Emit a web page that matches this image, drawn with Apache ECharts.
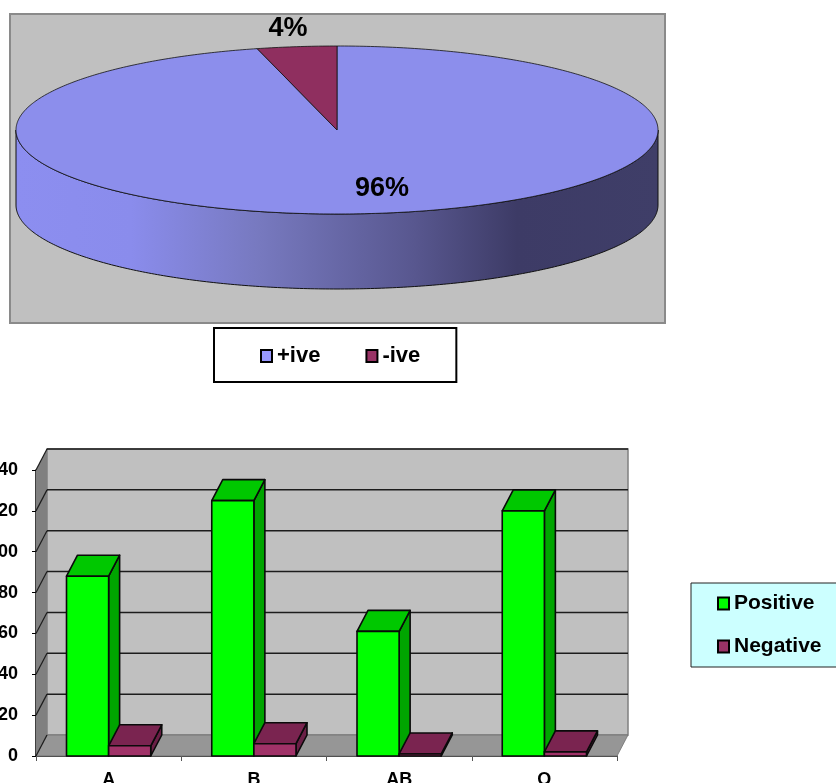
<!DOCTYPE html>
<html>
<head>
<meta charset="utf-8">
<style>html,body{margin:0;padding:0;background:#fff;overflow:hidden}#chart{width:836px;height:783px}</style>
<script src="https://cdn.jsdelivr.net/npm/echarts@6/dist/echarts.min.js"></script>
</head>
<body>
<div id="chart"></div>
<script>
// Rh factor shares for the disc
const rhLabels = ['+ive', '-ive'];
const rhShares = [96, 4];
const rhColors = ['#8c8eec', '#8f2f5f'];
const rhLegendColors = ['#9999ff', '#993366'];

// Blood group counts for the column chart
const bloodGroups = ['A', 'B', 'AB', 'O'];
const positiveCounts = [88, 125, 61, 120];
const negativeCounts = [5, 6, 1, 2];
const countTicks = [0, 20, 40, 60, 80, 100, 120, 140];

const font = '"Liberation Sans", Arial, sans-serif';
const disc = { cx: 337, cy: 130, rx: 321, ry: 84, height: 75 };
const depth = { x: 11, y: -21 };
const barShare = 0.29;

function ellipseArc(from, to, dy) {
  const pts = [];
  const steps = Math.max(4, Math.ceil(Math.abs(to - from) * 1.5));
  for (let i = 0; i <= steps; i++) {
    const a = (from + (to - from) * i / steps) * Math.PI / 180;
    pts.push([disc.cx + disc.rx * Math.sin(a), disc.cy - disc.ry * Math.cos(a) + (dy || 0)]);
  }
  return pts;
}

// One slice of the disc; the rim sits under the first slice
function renderSlice(index) {
  return function () {
    const total = rhShares.reduce((a, b) => a + b, 0);
    const before = rhShares.slice(0, index).reduce((a, b) => a + b, 0);
    const start = before / total * 360;
    const end = (before + rhShares[index]) / total * 360;
    const children = [];
    if (index === 0) {
      const rim = ellipseArc(90, 270, 0).concat(ellipseArc(270, 90, disc.height));
      children.push({
        type: 'polygon',
        shape: { points: rim },
        style: {
          fill: {
            type: 'linear', x: 0, y: 0, x2: 1, y2: 0,
            colorStops: [
              { offset: 0, color: '#8c8ef0' },
              { offset: 0.18, color: '#8a8cec' },
              { offset: 0.38, color: '#7779bf' },
              { offset: 0.62, color: '#58578f' },
              { offset: 0.78, color: '#3d3b66' },
              { offset: 1, color: '#3f3e68' }
            ]
          },
          stroke: '#111', lineWidth: 1
        }
      });
    }
    children.push({
      type: 'polygon',
      shape: { points: [[disc.cx, disc.cy]].concat(ellipseArc(start, end, 0)) },
      style: { fill: rhColors[index], stroke: '#111', lineWidth: 0.8 }
    });
    return { type: 'group', children };
  };
}

function renderSliceLabels() {
  return {
    type: 'group',
    children: [
      { text: rhShares[0] + '%', x: 382, y: 189 },
      { text: rhShares[1] + '%', x: 288, y: 29 }
    ].map(l => ({
      type: 'text',
      z2: 10,
      style: {
        text: l.text, x: l.x, y: l.y, fill: '#000',
        font: 'bold 27px ' + font, align: 'center', verticalAlign: 'middle'
      }
    }))
  };
}

// Back wall, side wall, floor and the gridlines of the column chart
function renderWalls(params, api) {
  const lo = countTicks[0];
  const hi = countTicks[countTicks.length - 1];
  const band = api.size([1, 0])[0];
  const x0 = api.coord([0, lo])[0] - band / 2;
  const x1 = x0 + band * bloodGroups.length;
  const y0 = api.coord([0, lo])[1];
  const y1 = api.coord([0, hi])[1];
  const dx = depth.x, dy = depth.y;
  const line = (a, b, w) => ({
    type: 'line',
    shape: { x1: a[0], y1: a[1], x2: b[0], y2: b[1] },
    style: { stroke: '#1c1c1c', lineWidth: w }
  });
  const children = [
    { type: 'polygon', shape: { points: [[x0 + dx, y0 + dy], [x1 + dx, y0 + dy], [x1 + dx, y1 + dy], [x0 + dx, y1 + dy]] },
      style: { fill: '#c0c0c0', stroke: '#808080', lineWidth: 1.5 } },
    { type: 'polygon', shape: { points: [[x0, y0], [x0 + dx, y0 + dy], [x0 + dx, y1 + dy], [x0, y1]] },
      style: { fill: '#808080' } },
    { type: 'polygon', shape: { points: [[x0, y0], [x1, y0], [x1 + dx, y0 + dy], [x0 + dx, y0 + dy]] },
      style: { fill: '#969696', stroke: '#707070', lineWidth: 0.8 } }
  ];
  countTicks.forEach(t => {
    const y = api.coord([0, t])[1];
    if (t !== lo) children.push(line([x0 + dx, y + dy], [x1 + dx, y + dy], 1.5));
    children.push(line([x0, y], [x0 + dx, y + dy], 1.2));
  });
  return { type: 'group', children };
}

// A column with a visible top and right side, offset left or right of the band centre
function renderColumn(colors, side) {
  return function (params, api) {
    const base = api.coord([api.value(0), 0]);
    const top = api.coord([api.value(0), api.value(1)]);
    const w = api.size([1, 0])[0] * barShare;
    const xa = side < 0 ? base[0] - w : base[0];
    const xb = xa + w;
    const dx = depth.x, dy = depth.y;
    const stroke = { stroke: '#0a0a0a', lineWidth: 1.6, lineJoin: 'round' };
    return {
      type: 'group',
      children: [
        { type: 'polygon', shape: { points: [[xb, top[1]], [xb + dx, top[1] + dy], [xb + dx, base[1] + dy], [xb, base[1]]] },
          style: Object.assign({ fill: colors.side }, stroke) },
        { type: 'polygon', shape: { points: [[xa, top[1]], [xb, top[1]], [xb + dx, top[1] + dy], [xa + dx, top[1] + dy]] },
          style: Object.assign({ fill: colors.top }, stroke) },
        { type: 'rect', shape: { x: xa, y: top[1], width: w, height: base[1] - top[1] },
          style: Object.assign({ fill: colors.front }, stroke) }
      ]
    };
  };
}

const chart = echarts.init(document.getElementById('chart'), null, { renderer: 'canvas' });
chart.setOption({
  animation: false,
  backgroundColor: '#fff',
  textStyle: { fontFamily: font },
  graphic: [{
    type: 'rect', z: -1,
    shape: { x: 10, y: 14, width: 655, height: 309 },
    style: { fill: '#c0c0c0', stroke: '#8a8a8a', lineWidth: 2 }
  }],
  legend: [
    {
      data: rhLabels, left: 214, top: 328, icon: 'rect',
      itemWidth: 11, itemHeight: 12, itemGap: 45,
      padding: [17, 36, 15, 46],
      backgroundColor: '#fff', borderColor: '#000', borderWidth: 2,
      itemStyle: { borderColor: '#000', borderWidth: 2 },
      textStyle: { fontFamily: font, fontWeight: 'bold', fontSize: 22, color: '#000' }
    },
    {
      data: ['Positive', 'Negative'], left: 691, top: 583, orient: 'vertical', icon: 'rect',
      itemWidth: 11, itemHeight: 12, itemGap: 22,
      padding: [10, 30, 10, 26],
      backgroundColor: '#ccffff', borderColor: '#222', borderWidth: 1,
      itemStyle: { borderColor: '#000', borderWidth: 2 },
      textStyle: { fontFamily: font, fontWeight: 'bold', fontSize: 21, color: '#000' }
    }
  ],
  grid: { left: 36, top: 470, width: 581, height: 286, outerBoundsMode: 'none' },
  xAxis: {
    type: 'category',
    data: bloodGroups,
    axisLine: { lineStyle: { color: '#000', width: 1.5 } },
    axisTick: { show: true, length: 5, lineStyle: { color: '#555' } },
    axisLabel: { color: '#000', fontWeight: 'bold', fontSize: 18, margin: 15, fontFamily: font }
  },
  yAxis: {
    type: 'value',
    min: 0, max: 140, interval: 20,
    axisLine: { show: true, lineStyle: { color: '#000', width: 1.5 } },
    axisTick: { show: true, length: 4, lineStyle: { color: '#000' } },
    splitLine: { show: false },
    axisLabel: { color: '#000', fontWeight: 'bold', fontSize: 18, margin: 18, fontFamily: font }
  },
  series: [
    { type: 'custom', name: rhLabels[0], coordinateSystem: 'none', silent: true, z: 2,
      itemStyle: { color: rhLegendColors[0] }, data: [[rhShares[0]]], renderItem: renderSlice(0) },
    { type: 'custom', name: rhLabels[1], coordinateSystem: 'none', silent: true, z: 3,
      itemStyle: { color: rhLegendColors[1] }, data: [[rhShares[1]]], renderItem: renderSlice(1) },
    { type: 'custom', coordinateSystem: 'none', silent: true, z: 4,
      data: [[0]], renderItem: renderSliceLabels },
    { type: 'custom', xAxisIndex: 0, yAxisIndex: 0, silent: true, z: 1, clip: false,
      data: [[0, 0]], encode: { x: 0, y: 1 }, renderItem: renderWalls },
    { type: 'custom', name: 'Positive', silent: true, z: 5, clip: false,
      itemStyle: { color: '#00ff00' },
      data: positiveCounts.map((v, i) => [i, v]), encode: { x: 0, y: 1 },
      renderItem: renderColumn({ front: '#00ff00', top: '#00c800', side: '#00a500' }, -1) },
    { type: 'custom', name: 'Negative', silent: true, z: 6, clip: false,
      itemStyle: { color: '#993366' },
      data: negativeCounts.map((v, i) => [i, v]), encode: { x: 0, y: 1 },
      renderItem: renderColumn({ front: '#a03268', top: '#7a2450', side: '#6a1f46' }, 1) }
  ]
});
</script>
</body>
</html>
